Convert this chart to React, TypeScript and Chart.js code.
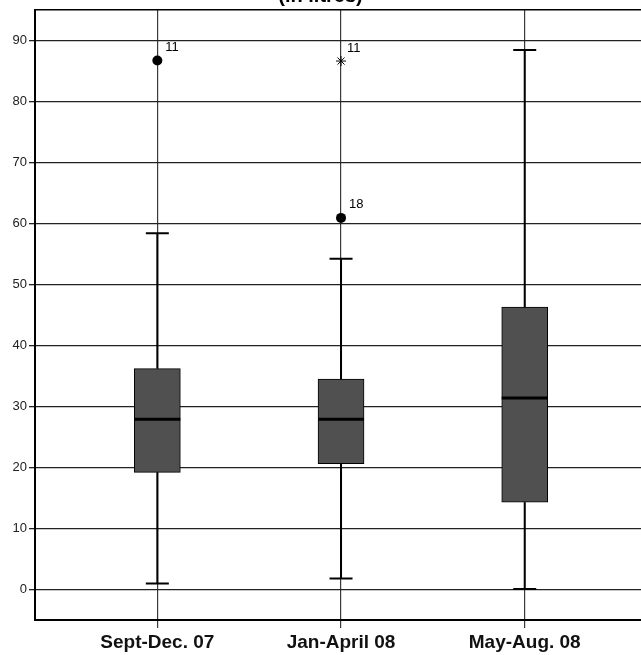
import React, { useEffect, useRef } from "react";
import { Chart, registerables } from "chart.js";

Chart.register(...registerables);

const categories = ["Sept-Dec. 07", "Jan-April 08", "May-Aug. 08"];
const whiskerLow = [1.0, 1.8, 0.1];
const q1 = [19.2, 20.6, 14.3];
const median = [27.9, 27.9, 31.4];
const q3 = [36.2, 34.5, 46.3];
const whiskerHigh = [58.4, 54.2, 88.4];

const outlierCat = [1, 2];
const outlierVal = [86.7, 60.9];
const outlierLabel = ["11", "18"];

const extremeCat = [2];
const extremeVal = [86.6];
const extremeLabel = ["11"];

const yTicks = [0, 10, 20, 30, 40, 50, 60, 70, 80, 90];
const titleText = "(in litres)";

const FONT = "'Liberation Sans', Arial, sans-serif";

const boxPlugin = {
  id: "boxParts",
  beforeDatasetsDraw(chart: any) {
    const { ctx, scales } = chart;
    const xs = scales.x;
    const ys = scales.y;
    ctx.save();
    ctx.strokeStyle = "#000";
    ctx.lineWidth = 2;
    const capHalf = 11.5;
    categories.forEach((_, i) => {
      const x = xs.getPixelForValue(i + 1);
      const yHi = ys.getPixelForValue(whiskerHigh[i]);
      const yQ3 = ys.getPixelForValue(q3[i]);
      const yQ1 = ys.getPixelForValue(q1[i]);
      const yLo = ys.getPixelForValue(whiskerLow[i]);
      ctx.beginPath();
      ctx.moveTo(x, yHi);
      ctx.lineTo(x, yQ3);
      ctx.moveTo(x, yQ1);
      ctx.lineTo(x, yLo);
      ctx.moveTo(x - capHalf, yHi);
      ctx.lineTo(x + capHalf, yHi);
      ctx.moveTo(x - capHalf, yLo);
      ctx.lineTo(x + capHalf, yLo);
      ctx.stroke();
    });
    ctx.restore();
  },
  afterDatasetsDraw(chart: any) {
    const { ctx, scales } = chart;
    const xs = scales.x;
    const ys = scales.y;
    ctx.save();
    ctx.strokeStyle = "#000";
    ctx.lineWidth = 3;
    const half = 23;
    categories.forEach((_, i) => {
      const x = xs.getPixelForValue(i + 1);
      const y = ys.getPixelForValue(median[i]);
      ctx.beginPath();
      ctx.moveTo(x - half, y);
      ctx.lineTo(x + half, y);
      ctx.stroke();
    });
    ctx.fillStyle = "#000";
    ctx.font = `13px ${FONT}`;
    ctx.textAlign = "left";
    ctx.textBaseline = "middle";
    outlierCat.forEach((c, i) => {
      const x = xs.getPixelForValue(c);
      const y = ys.getPixelForValue(outlierVal[i]);
      ctx.fillText(outlierLabel[i], x + 8, y - 13);
    });
    extremeCat.forEach((c, i) => {
      const x = xs.getPixelForValue(c);
      const y = ys.getPixelForValue(extremeVal[i]);
      ctx.fillText(extremeLabel[i], x + 6, y - 13);
    });
    const a = chart.chartArea;
    ctx.strokeStyle = "#000";
    ctx.lineWidth = 1.5;
    ctx.beginPath();
    ctx.moveTo(a.left, a.top);
    ctx.lineTo(a.right, a.top);
    ctx.stroke();
    ctx.restore();
  },
};

export default function App() {
  const ref = useRef<HTMLCanvasElement | null>(null);

  useEffect(() => {
    if (!ref.current) return;
    const chart = new Chart(ref.current, {
      type: "bar",
      data: {
        datasets: [
          {
            type: "bar",
            data: categories.map((_, i) => ({ x: i + 1, y: [q1[i], q3[i]] })) as any,
            backgroundColor: "#505050",
            borderColor: "#000",
            borderWidth: 1,
            borderSkipped: false,
            barThickness: 46,
            order: 2,
          } as any,
          {
            type: "scatter",
            data: outlierCat.map((c, i) => ({ x: c, y: outlierVal[i] })),
            pointStyle: "circle",
            pointRadius: 5,
            backgroundColor: "#000",
            borderColor: "#000",
            borderWidth: 0,
            order: 1,
          } as any,
          {
            type: "scatter",
            data: extremeCat.map((c, i) => ({ x: c, y: extremeVal[i] })),
            pointStyle: "star",
            pointRadius: 5,
            backgroundColor: "#000",
            borderColor: "#000",
            borderWidth: 1,
            order: 1,
          } as any,
        ],
      },
      options: {
        animation: false,
        responsive: true,
        maintainAspectRatio: false,
        layout: { padding: 0, autoPadding: false },
        plugins: {
          legend: { display: false },
          tooltip: { enabled: false },
          title: {
            display: true,
            text: titleText,
            color: "#000",
            font: { family: FONT, size: 20, weight: "bold", lineHeight: 1.2 },
            padding: { top: -16, bottom: 1 },
          },
        },
        scales: {
          x: {
            type: "linear",
            min: 0.334,
            max: 3.633,
            offset: false,
            afterBuildTicks: (s: any) => {
              s.ticks = categories.map((_, i) => ({ value: i + 1 }));
            },
            afterFit: (s: any) => {
              s.height = 35;
              s.paddingLeft = 0;
              s.paddingRight = 0;
            },
            grid: {
              color: "#3a3a3a",
              lineWidth: 1.2,
              tickLength: 8,
              offset: false,
              drawOnChartArea: true,
            },
            border: { color: "#000", width: 2 },
            ticks: {
              padding: 3,
              color: "#111",
              font: { family: FONT, size: 19, weight: "bold" },
              autoSkip: false,
              maxRotation: 0,
              callback: (v: any) => categories[Math.round(Number(v)) - 1] ?? "",
            },
          },
          y: {
            type: "linear",
            min: -5,
            max: 95,
            afterBuildTicks: (s: any) => {
              s.ticks = yTicks.map((v) => ({ value: v }));
            },
            afterFit: (s: any) => {
              s.width = 35;
            },
            grid: {
              color: "#222",
              lineWidth: 1.3,
              tickLength: 6,
            },
            border: { color: "#000", width: 2 },
            ticks: {
              padding: 2,
              color: "#222",
              font: { family: FONT, size: 13 },
            },
          },
        },
      },
      plugins: [boxPlugin],
    });
    return () => chart.destroy();
  }, []);

  return (
    <div style={{ position: "absolute", left: 0, top: 0, width: 641, height: 655 }}>
      <canvas ref={ref} />
    </div>
  );
}
